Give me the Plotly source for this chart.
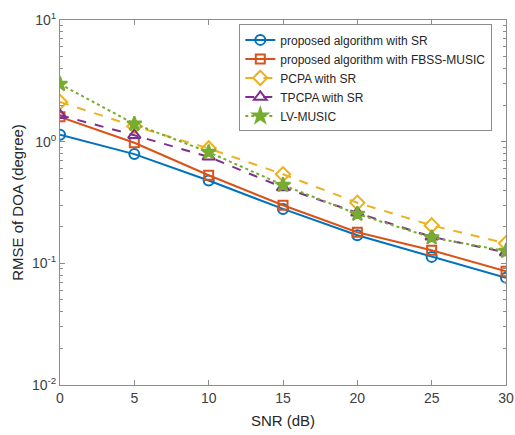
import plotly.graph_objects as go

snr = [0, 5, 10, 15, 20, 25, 30]
sr = [1.14, 0.79, 0.48, 0.28, 0.17, 0.113, 0.076]
fbss = [1.60, 0.98, 0.53, 0.30, 0.18, 0.128, 0.086]
pcpa = [2.12, 1.34, 0.88, 0.54, 0.315, 0.205, 0.146]
tpcpa = [1.65, 1.13, 0.75, 0.42, 0.26, 0.165, 0.123]
lvmusic = [2.97, 1.40, 0.82, 0.44, 0.254, 0.163, 0.126]

names = ["proposed algorithm with SR", "proposed algorithm with FBSS-MUSIC",
         "PCPA with SR", "TPCPA with SR", "LV-MUSIC"]
colors = ["#0072BD", "#D95319", "#EDB120", "#7E2F8E", "#77AC30"]
symbols = ["circle-open", "square-open", "diamond-open", "triangle-up-open", "star"]
dashes = ["solid", "solid", "dash", "dash", "dot"]
sizes = [10, 9, 11, 11, 11]
series = [sr, fbss, pcpa, tpcpa, lvmusic]

fig = go.Figure()
for nm, c, s, d, sz, y in zip(names, colors, symbols, dashes, sizes, series):
    fig.add_trace(go.Scatter(
        x=snr, y=y, name=nm, mode="lines+markers",
        line=dict(color=c, width=2, dash=d),
        marker=dict(symbol=s, size=sz, color=c, line=dict(color=c, width=2)),
    ))

font = dict(family="Liberation Sans, Arial, sans-serif", color="#262626")
minor_vals = [m * 10 ** e for e in (-2, -1, 0) for m in range(2, 10)]
fig.update_layout(
    width=515, height=435,
    margin=dict(l=60, r=9, t=20, b=50),
    paper_bgcolor="white", plot_bgcolor="white",
    font=dict(size=14, **font),
    showlegend=True,
    legend=dict(x=0.402, y=0.988, xanchor="left", yanchor="top",
                bgcolor="white", bordercolor="#8c8c8c", borderwidth=1,
                font=dict(size=12, **font), itemwidth=30,
                tracegroupgap=0),
    xaxis=dict(range=[0, 30], tickvals=snr, ticks="inside", ticklen=5,
               showline=True, linecolor="#8c8c8c", linewidth=1, mirror="ticks",
               tickcolor="#8c8c8c", showgrid=False, zeroline=False, automargin=False,
               title=dict(text="SNR (dB)", font=dict(size=15, **font), standoff=10),
               tickfont=dict(size=14, color="#404040")),
    yaxis=dict(type="log", range=[-2, 1], tickvals=[0.01, 0.1, 1, 10],
               ticktext=["10<sup>-2</sup>", "10<sup>-1</sup>", "10<sup>0</sup>", "10<sup>1</sup>"],
               ticks="inside", ticklen=5, showline=True, linecolor="#8c8c8c",
               linewidth=1, mirror="ticks", tickcolor="#8c8c8c", showgrid=False,
               zeroline=False, automargin=False,
               minor=dict(tickvals=minor_vals, ticks="inside", ticklen=3,
                          tickcolor="#8c8c8c", showgrid=False),
               title=dict(text="RMSE of DOA (degree)", font=dict(size=15, **font), standoff=4),
               tickfont=dict(size=14, color="#404040")),
)
fig.write_html("out.html", config={"displayModeBar": False},
               post_script="document.body.style.margin='0';")
